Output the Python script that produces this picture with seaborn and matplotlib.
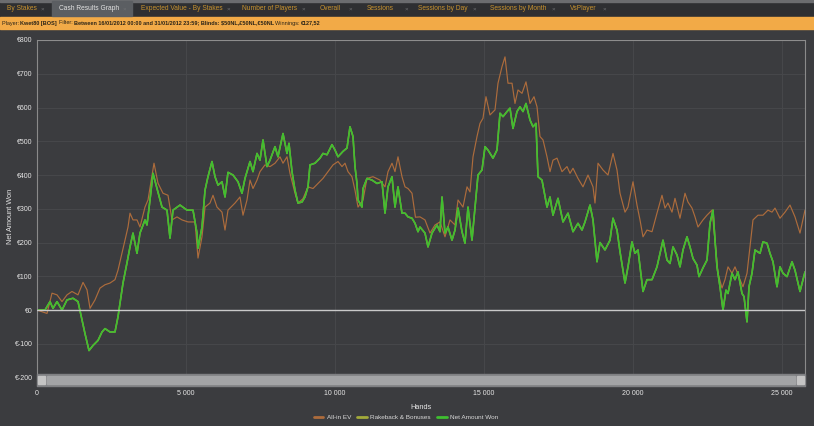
import numpy as np
import pandas as pd
import seaborn as sns
import matplotlib.pyplot as plt
from matplotlib.patches import Rectangle
from matplotlib.lines import Line2D
from matplotlib.ticker import FuncFormatter, MultipleLocator

# values (hands played, euros)
ev_hands = [0, 336, 503, 671, 839, 1007, 1174, 1376, 1544, 1678, 1779, 1946, 2114, 2282, 2450,
            2617, 2718, 2852, 2953, 3054, 3121, 3221, 3356, 3456, 3624, 3725, 3859, 3926, 4060,
            4228, 4396, 4530, 4698, 4866, 5067, 5302, 5403, 5537, 5638, 5805, 5906, 6040, 6208,
            6309, 6409, 6644, 6812, 6913, 7047, 7148, 7248, 7383, 7483, 7651, 7819, 7987, 8154,
            8255, 8389, 8490, 8658, 8758, 8926, 9094, 9262, 9430, 9597, 9765, 9933, 10101, 10235,
            10336, 10436, 10570, 10671, 10772, 10940, 11074, 11275, 11510, 11678, 11779, 11913,
            12013, 12114, 12248, 12349, 12450, 12584, 12700, 12852, 13020, 13188, 13356, 13523,
            13691, 13859, 14027, 14128, 14295, 14430, 14530, 14631, 14765, 14866, 14966, 15067,
            15201, 15369, 15470, 15604, 15705, 15805, 15940, 16040, 16141, 16275, 16409, 16544,
            16678, 16779, 16879, 16980, 17114, 17215, 17315, 17450, 17617, 17785, 17886, 17987,
            18154, 18322, 18490, 18658, 18725, 18826, 18993, 19161, 19228, 19329, 19463, 19564,
            19732, 19832, 19966, 20000, 20134, 20235, 20336, 20470, 20638, 20805, 20973, 21074,
            21174, 21309, 21409, 21577, 21745, 21846, 21980, 22081, 22181, 22349, 22483, 22651,
            22752, 22852, 22987, 23087, 23188, 23322, 23423, 23591, 23691, 23826, 23926, 24027,
            24195, 24362, 24530, 24664, 24765, 24933, 25101, 25268, 25436, 25604, 25772]
ev_won = [0, -10, 50, 45, 25, 45, 55, 45, 82, 60, 5, 30, 65, 75, 80,
          90, 118, 168, 207, 246, 287, 267, 267, 246, 305, 326, 400, 435, 376,
          346, 340, 267, 276, 267, 261, 261, 154, 217, 305, 317, 340, 305, 290,
          237, 296, 317, 335, 281, 326, 385, 360, 385, 410, 430, 425, 435, 454,
          435, 454, 405, 346, 317, 330, 365, 360, 375, 390, 410, 430, 440, 425,
          435, 410, 395, 355, 305, 326, 390, 395, 385, 365, 410, 435,
          410, 454, 395, 365, 360, 346, 275, 276, 267, 228, 252, 261,
          217, 267, 252, 326, 305, 365, 350, 454, 514, 553, 568, 632,
          578, 593, 672, 721, 750, 672, 672, 612, 652, 642, 676, 612,
          632, 602, 514, 504, 454, 410, 444, 450, 410, 425, 405, 420,
          390, 365, 400, 365, 317, 435, 415, 400, 425, 464, 415, 346,
          290, 305, 365, 380, 311, 267, 217, 237, 232, 287, 340, 302,
          317, 290, 331, 272, 346, 320, 302, 276, 246, 267, 281, 296,
          207, 109, 65, 90, 128, 109, 128, 90, 69, 109, 187, 267,
          281, 281, 296, 290, 302, 272, 290, 311, 276, 228, 296]

net_hands = [0, 268, 436, 537, 671, 839, 1007, 1208, 1376, 1510, 1611, 1745, 1879, 2047, 2181,
             2282, 2450, 2617, 2718, 2886, 3020, 3121, 3221, 3356, 3456, 3624, 3691, 3792, 3893,
             4027, 4195, 4362, 4463, 4564, 4799, 5034, 5235, 5369, 5403, 5537, 5638, 5738, 5872,
             5973, 6074, 6208, 6309, 6409, 6577, 6745, 6879, 6980, 7148, 7248, 7383, 7483, 7584,
             7718, 7819, 7987, 8087, 8255, 8389, 8456, 8557, 8658, 8758, 8893, 8993, 9094, 9161,
             9329, 9497, 9597, 9732, 9899, 10000, 10101, 10268, 10403, 10503, 10604, 10671, 10738,
             10772, 10906, 10940, 11074, 11242, 11409, 11577, 11678, 11779, 11913, 12013, 12114,
             12248, 12349, 12450, 12584, 12685, 12785, 12852, 13020, 13121, 13255, 13423, 13523,
             13591, 13691, 13792, 13926, 14027, 14128, 14262, 14362, 14463, 14597, 14698, 14799,
             14933, 15034, 15134, 15302, 15436, 15537, 15638, 15772, 15872, 15973, 16107, 16208,
             16309, 16409, 16544, 16644, 16745, 16812, 16946, 17114, 17215, 17315, 17483, 17651,
             17819, 17987, 18154, 18289, 18389, 18557, 18658, 18792, 18893, 19060, 19228, 19329,
             19463, 19564, 19732, 19832, 19966, 20067, 20168, 20302, 20336, 20470, 20638, 20805,
             20906, 21007, 21141, 21242, 21342, 21477, 21577, 21678, 21812, 21913, 22013, 22148,
             22215, 22349, 22483, 22584, 22685, 22752, 22819, 22919, 23020, 23121, 23188, 23322,
             23423, 23523, 23658, 23725, 23826, 23893, 23993, 24094, 24262, 24362, 24497, 24597,
             24698, 24832, 24933, 25034, 25168, 25336, 25436, 25604, 25772]
net_won = [0, 0, 25, 5, 25, 0, 30, 35, 25, -30, -70, -120, -105, -90, -65,
           -55, -65, -65, -20, 80, 140, 187, 228, 168, 228, 267, 252, 326, 405,
           360, 305, 296, 213, 296, 311, 296, 296, 228, 183, 246, 355, 395, 440,
           395, 370, 380, 335, 408, 400, 380, 346, 390, 440, 410, 464, 444, 504,
           425, 444, 484, 454, 523, 464, 494, 410, 355, 317, 320, 335, 365, 430,
           435, 450, 464, 460, 490, 474, 454, 470, 480, 543, 514, 425, 375,
           326, 305, 360, 390, 385, 375, 380, 287, 365, 395, 305, 365,
           287, 287, 276, 272, 257, 232, 246, 228, 187, 228, 252, 232,
           335, 228, 246, 207, 237, 302, 232, 198, 305, 207, 305, 400,
           415, 484, 474, 450, 474, 583, 573, 588, 598, 538, 588, 602,
           588, 612, 563, 543, 553, 395, 385, 305, 335, 281, 331, 261,
           287, 232, 257, 237, 261, 311, 267, 143, 200, 178, 207, 272,
           237, 173, 80, 128, 202, 168, 178, 80, 55, 90, 90, 128,
           168, 207, 148, 138, 187, 163, 128, 178, 217, 187, 153, 133,
           99, 125, 148, 257, 296, 207, 128, 69, 0, 59, 49, 109,
           90, 113, 49, 40, -35, 69, 109, 178, 168, 202, 198, 168,
           143, 69, 128, 109, 99, 143, 118, 55, 113]

# rakeback & bonuses track the net line (hidden under it in the screenshot)
rb_hands = net_hands
rb_won = net_won

series_names = ["All-in EV", "Rakeback & Bonuses", "Net Amount Won"]
series_colors = ["#ad6c3c", "#a3aa3a", "#3fbf30"]

tabs = ["By Stakes", "Cash Results Graph", "Expected Value - By Stakes", "Number of Players",
        "Overall", "Sessions", "Sessions by Day", "Sessions by Month", "VsPlayer"]
header_parts = [("Player: ", "normal"), ("Kwet80 [BOS] ", "bold"), ("Filter: ", "normal"),
                ("Between 16/01/2012 00:00 and 31/01/2012 23:59; Blinds: $50NL,£50NL,€50NL ", "bold"),
                ("Winnings: ", "normal"), ("€127,52", "bold")]

df = pd.concat([
    pd.DataFrame({"Hands": ev_hands, "Won": ev_won, "series": series_names[0]}),
    pd.DataFrame({"Hands": rb_hands, "Won": rb_won, "series": series_names[1]}),
    pd.DataFrame({"Hands": net_hands, "Won": net_won, "series": series_names[2]}),
])

sns.set_theme(style="dark")
plt.rcParams["font.family"] = ["Liberation Sans", "DejaVu Sans"]
bg = "#3b3c3f"
W, H = 814, 426

fig = plt.figure(figsize=(W / 100, H / 100), dpi=100, facecolor=bg)
ax = fig.add_axes([37 / W, 1 - 386 / H, 768 / W, 346 / H])
ax.set_facecolor(bg)

sns.lineplot(data=df[df.series == series_names[0]], x="Hands", y="Won", color=series_colors[0],
             lw=0.85, sort=False, estimator=None, ax=ax, legend=False)
sns.lineplot(data=df[df.series == series_names[1]], x="Hands", y="Won", color=series_colors[1],
             lw=1.1, sort=False, estimator=None, ax=ax, legend=False)
sns.lineplot(data=df[df.series == series_names[2]], x="Hands", y="Won", color=series_colors[2],
             lw=1.15, sort=False, estimator=None, ax=ax, legend=False)

ax.set_xlim(0, 25772)
ax.set_ylim(-225, 800)
ax.xaxis.set_major_locator(MultipleLocator(5000))
ax.xaxis.set_major_formatter(FuncFormatter(lambda v, p: f"{int(v):,}".replace(",", " ")))
ax.yaxis.set_major_formatter(FuncFormatter(lambda v, p: f"€{int(v)}"))
ax.set_yticks([t for t in range(-200, 801, 100)])
ax.grid(True, color="#47484b", lw=0.7)
ax.axhline(0, color="#c9c9c9", lw=1.0, zorder=3)
ax.axhline(800, color="#8d8d8d", lw=0.8, zorder=3)
ax.tick_params(colors="#e6e6e6", labelsize=5.0, length=0, pad=3)
for s in ["left", "right"]:
    ax.spines[s].set_visible(True)
    ax.spines[s].set_color("#8a8a8a")
    ax.spines[s].set_linewidth(0.8)
for s in ["top", "bottom"]:
    ax.spines[s].set_visible(False)
ax.set_xlabel("Hands", color="#e6e6e6", fontsize=5.3, labelpad=5)
ax.set_ylabel("Net Amount Won", color="#e6e6e6", fontsize=5.3)
ax.yaxis.set_label_coords(-23 / 768, 0.49)

# scroll bar along the bottom of the plot
ax.add_patch(Rectangle((0, 0), 1, 12 / 346, transform=ax.transAxes, color="#7f8083", zorder=4, clip_on=False))
ax.add_patch(Rectangle((10 / 768, 2 / 346), 748 / 768, 8 / 346, transform=ax.transAxes,
                       color="#a3a4a6", zorder=5, clip_on=False))
ax.add_patch(Rectangle((1 / 768, 2 / 346), 7 / 768, 8 / 346, transform=ax.transAxes,
                       color="#c4c4c4", zorder=5, clip_on=False))
ax.add_patch(Rectangle((760 / 768, 2 / 346), 7 / 768, 8 / 346, transform=ax.transAxes,
                       color="#c4c4c4", zorder=5, clip_on=False))

# tab bar
fig.patches.append(Rectangle((0, 1 - 16 / H), 1, 16 / H, transform=fig.transFigure, color="#2e2f32", zorder=0))
fig.patches.append(Rectangle((0, 1 - 1.5 / H), 1, 1.5 / H, transform=fig.transFigure, color="#6b6c6f", zorder=1))
fig.patches.append(Rectangle((52 / W, 1 - 16 / H), 80 / W, 15 / H, transform=fig.transFigure, color="#5b5e62", zorder=1))
tab_x = [7, 59, 141, 242, 320, 367, 418, 490, 570]
close_x = [42, 124, 228, 303, 350, 406, 474, 553, 604]
for i, t in enumerate(tabs):
    col = "#e3e3e3" if i == 1 else "#c8922e"
    fig.text(tab_x[i] / W, 1 - 9 / H, t, color=col, fontsize=4.8, va="center", ha="left")
    fig.text(close_x[i] / W, 1 - 9 / H, "×", color="#6f7073", fontsize=4.5, va="center", ha="center")

# orange filter bar
fig.patches.append(Rectangle((0, 1 - 29 / H), 1, 12 / H, transform=fig.transFigure, color="#f2aa47", zorder=0))
renderer = fig.canvas.get_renderer()
xpos = 2 / W
for txt, wt in header_parts:
    t = fig.text(xpos, 1 - 23 / H, txt, color="#2b2418", fontsize=4.0, fontweight=wt, va="center", ha="left")
    bb = t.get_window_extent(renderer)
    xpos += bb.width / W

# legend under the x axis
handles = [Line2D([], [], color=c, lw=2) for c in series_colors]
fig.legend(handles, series_names, loc="center", bbox_to_anchor=(406 / W, 1 - 417 / H), ncol=3,
           frameon=False, fontsize=4.6, labelcolor="#d8d8d8", handlelength=1.5, columnspacing=1.0,
           handletextpad=0.5)

fig.savefig("out.png", dpi=100, facecolor=bg)
